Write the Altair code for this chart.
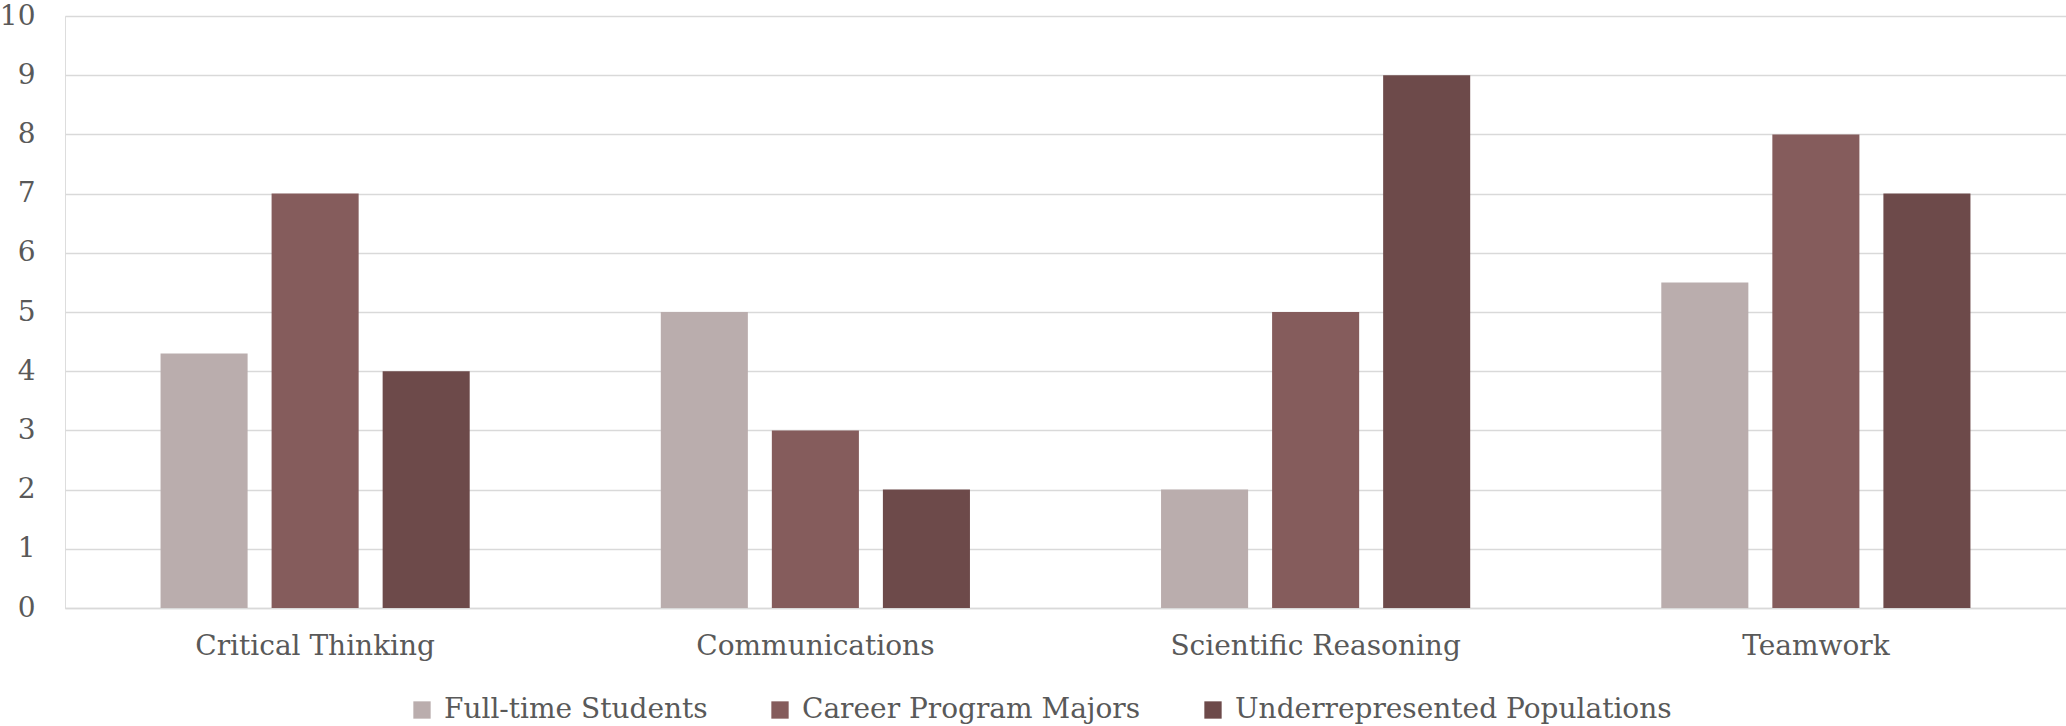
import altair as alt
import pandas as pd

categories = ["Critical Thinking", "Communications", "Scientific Reasoning", "Teamwork"]
series = ["Full-time Students", "Career Program Majors", "Underrepresented Populations"]
full_time = [4.3, 5, 2, 5.5]
career = [7, 3, 5, 8]
underrep = [4, 2, 9, 7]
colors = ["#BAADAD", "#855C5C", "#6D4A4A"]

rows = []
for i, c in enumerate(categories):
    for s, vals in zip(series, [full_time, career, underrep]):
        rows.append({"category": c, "series": s, "value": vals[i]})
df = pd.DataFrame(rows)

FONT = "DejaVu Serif"
TXT = "#595959"
FS = 28

chart = alt.Chart(df).mark_bar().encode(
    x=alt.X("category:N", sort=categories, title=None,
            scale=alt.Scale(paddingInner=0.382, paddingOuter=0.191),
            axis=alt.Axis(labelAngle=0, ticks=False, domain=True, domainColor="#D9D9D9",
                          domainWidth=1.5, labelFont=FONT, labelFontSize=FS, labelColor=TXT,
                          labelPadding=24, labelLimit=0, grid=False)),
    xOffset=alt.XOffset("series:N", sort=series, scale=alt.Scale(paddingInner=0.216)),
    y=alt.Y("value:Q", title=None,
            scale=alt.Scale(domain=[0, 10], nice=False),
            axis=alt.Axis(values=list(range(0, 11)), ticks=False, domain=False,
                          gridColor="#D9D9D9", gridWidth=1.5, labelFont=FONT,
                          labelFontSize=FS, labelColor=TXT, labelPadding=30,
                          labelLimit=0)),
    color=alt.Color("series:N", sort=series,
                    scale=alt.Scale(domain=series, range=colors),
                    legend=alt.Legend(title=None, orient="none", direction="horizontal",
                                      legendX=343, legendY=680,
                                      symbolType="square", symbolSize=300,
                                      symbolStrokeWidth=0, labelFont=FONT,
                                      labelFontSize=FS, labelColor=TXT, labelLimit=0,
                                      columnPadding=58, labelOffset=8)),
).properties(
    width=2001, height=592,
    autosize=alt.AutoSizeParams(type="none"),
    padding={"left": 65, "top": 16, "right": 0, "bottom": 118},
).configure_view(stroke=None).configure(background="white")

chart.save("out.html", embed_options={"renderer": "svg", "actions": False})
